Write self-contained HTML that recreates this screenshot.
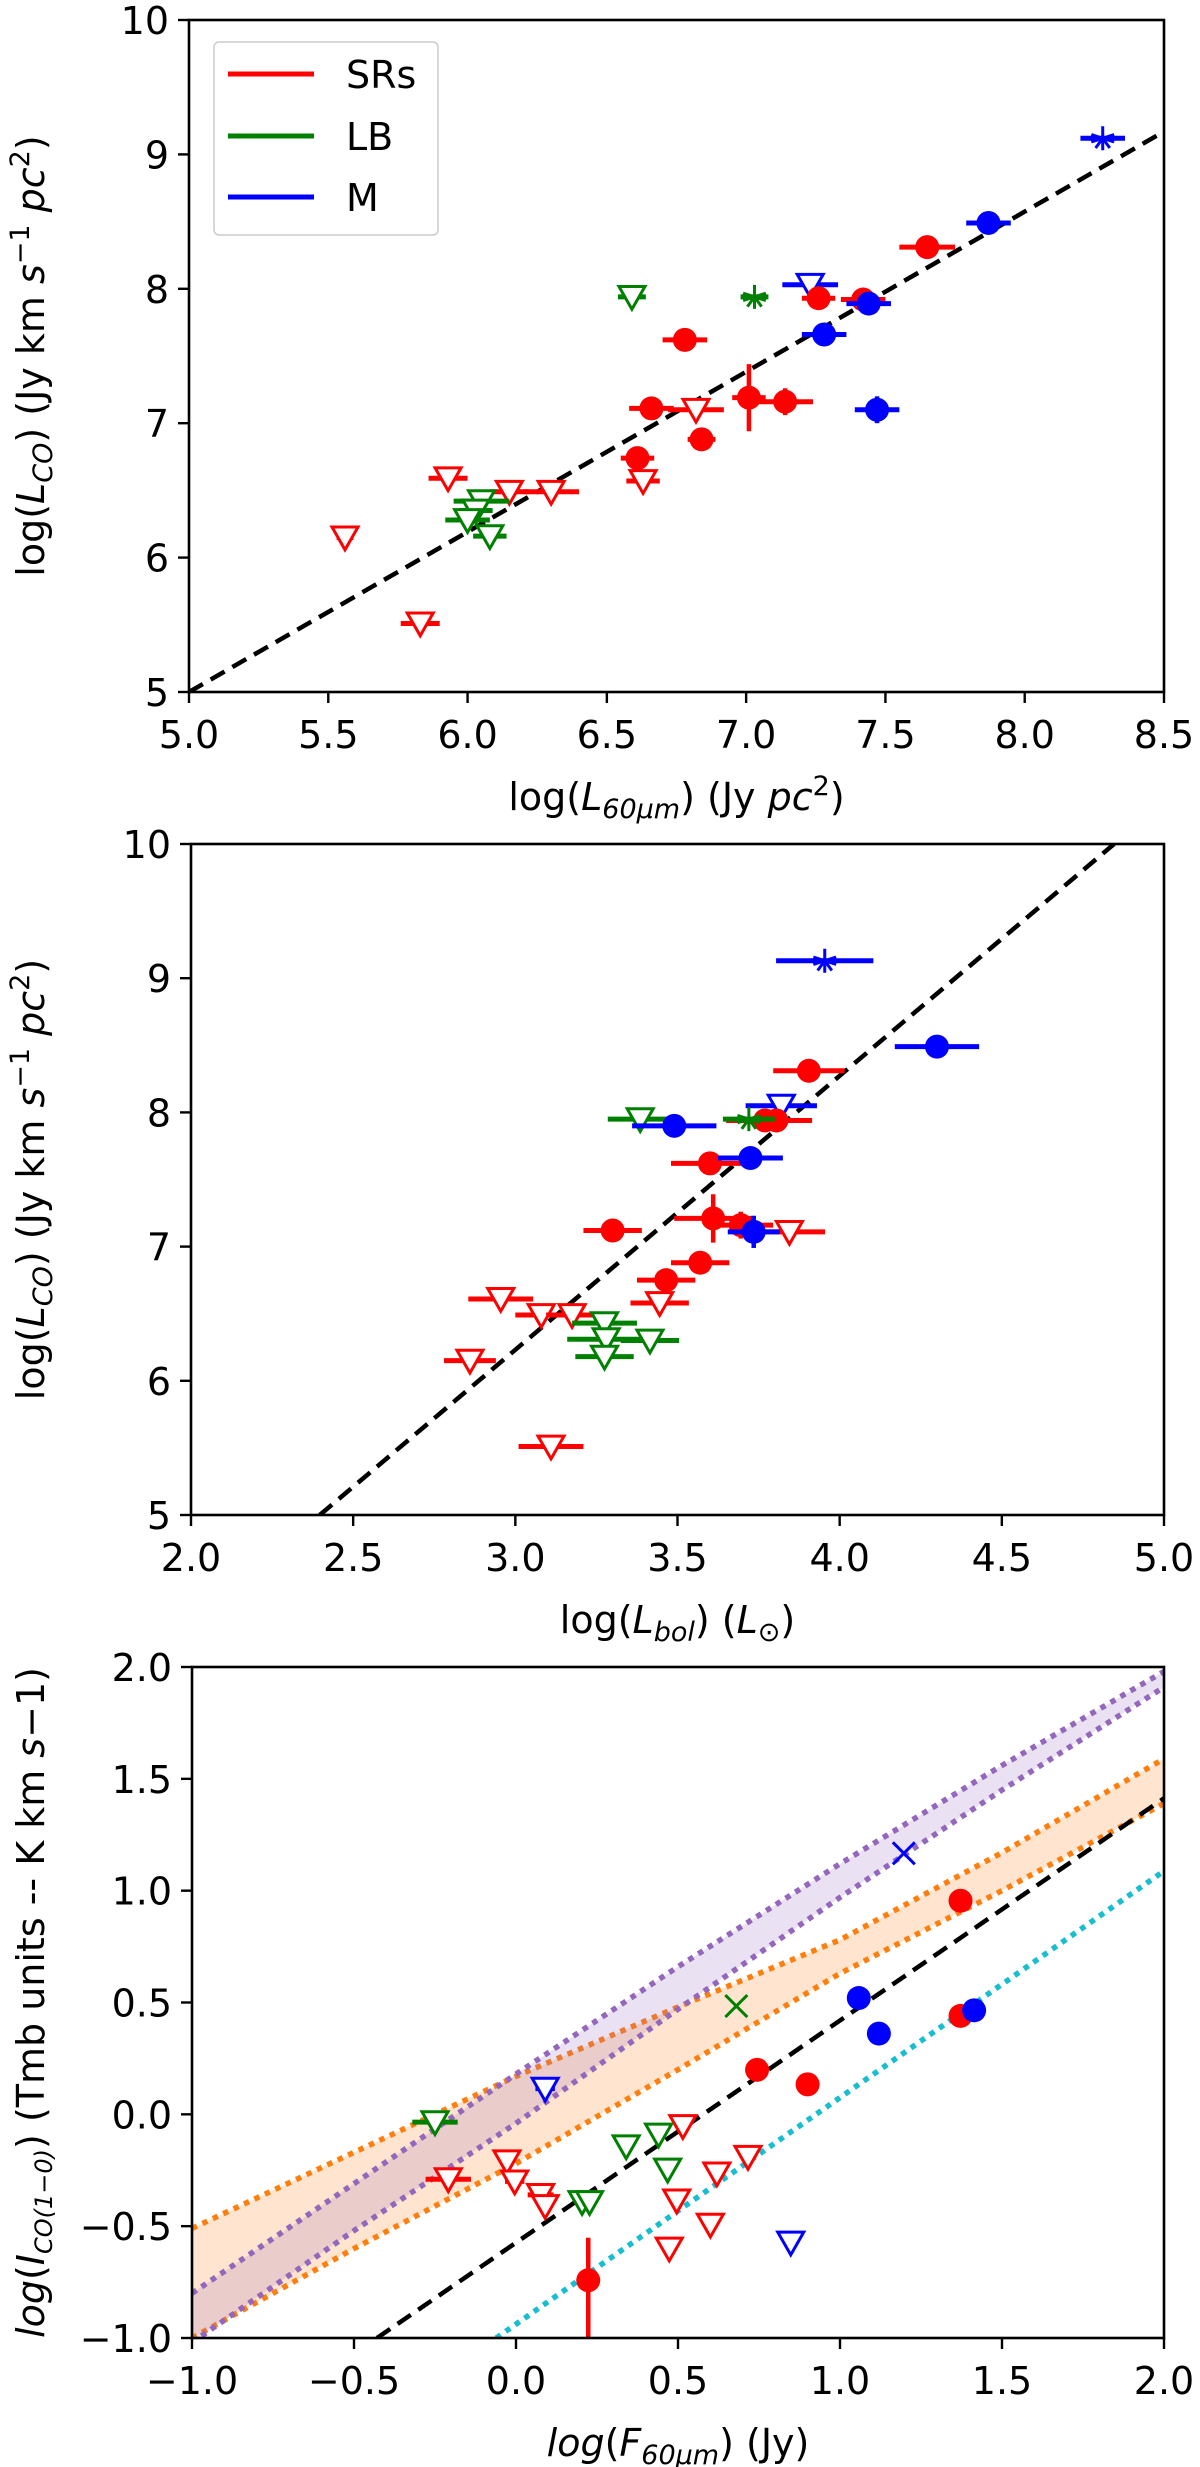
<!DOCTYPE html>
<html><head><meta charset="utf-8"><style>
html,body{margin:0;padding:0;background:#fff;}
svg{display:block;font-family:"DejaVu Sans","Liberation Sans",sans-serif;}
</style></head><body>
<svg id="fig" width="1200" height="2467" viewBox="0 0 1200 2467"></svg>
<script>
// ---------- Panel 1 data: log(L60) vs log(LCO) ----------
const p1_SR_filled = [[7.65,8.31,.1,0],[7.26,7.93,.06,0],[7.42,7.92,.08,0],[6.78,7.62,.08,0],[6.66,7.11,.08,0],[7.01,7.19,.06,.25],[7.14,7.16,.1,.1],[6.84,6.88,.05,.05],[6.61,6.74,.06,0]];
const p1_SR_upper = [[5.93,6.59,.07],[6.15,6.49,.07],[6.30,6.49,.1],[6.82,7.10,.1],[6.63,6.57,.06],[5.56,6.15,.03],[5.83,5.51,.07]];
const p1_LB_upper = [[6.59,7.94,.05],[6.05,6.42,.1],[6.03,6.35,.06],[6.00,6.28,.08],[6.08,6.16,.06]];
const p1_LB_star = [[7.03,7.94,.05]];
const p1_M_filled = [[7.87,8.49,.08,0],[7.44,7.89,.08,0],[7.28,7.66,.08,.05],[7.47,7.10,.08,.1]];
const p1_M_upper = [[7.23,8.03,.1]];
const p1_M_star = [[8.28,9.12,.08]];
const p1_fit_x = [5.0,8.5];
const p1_fit_y = [5.0,9.17];
const p1_xticks = [5.0,5.5,6.0,6.5,7.0,7.5,8.0,8.5];
const p1_yticks = [5,6,7,8,9,10];

// ---------- Panel 2 data: log(Lbol) vs log(LCO) ----------
const p2_SR_filled = [[3.905,8.31,.11,0],[3.77,7.94,.12,0],[3.805,7.94,.11,0],[3.60,7.62,.12,0],[3.61,7.21,.12,.18],[3.695,7.16,.1,.1],[3.30,7.12,.09,0],[3.57,6.88,.09,.05],[3.465,6.75,.09,0]];
const p2_SR_upper = [[2.955,6.61,.1],[3.08,6.49,.08],[3.175,6.49,.08],[3.445,6.58,.09],[3.845,7.11,.11],[2.86,6.15,.08],[3.11,5.51,.1]];
const p2_LB_upper = [[3.385,7.95,.1],[3.275,6.43,.1],[3.28,6.31,.12],[3.415,6.30,.09],[3.275,6.18,.09]];
const p2_LB_star = [[3.72,7.95,.08]];
const p2_M_filled = [[4.30,8.49,.13,0],[3.49,7.90,.13,0],[3.725,7.66,.1,.07],[3.735,7.11,.08,.12]];
const p2_M_upper = [[3.82,8.05,.11]];
const p2_M_star = [[3.954,9.13,.15]];
const p2_fit_x = [2.397,4.846];
const p2_fit_y = [5.0,10.0];
const p2_xticks = [2.0,2.5,3.0,3.5,4.0,4.5,5.0];
const p2_yticks = [5,6,7,8,9,10];

// ---------- Panel 3 data: log(F60) vs log(ICO) ----------
const p3_SR_filled = [[1.372,0.955,0,0],[1.372,0.44,0,0],[0.744,0.199,0,0],[0.90,0.134,0,0],[0.223,-0.742,0,0.19,0.3]];
const p3_SR_upper = [[-0.209,-0.29,.07],[-0.028,-0.21,.02],[-0.004,-0.30,.03],[0.076,-0.36,.04],[0.09,-0.41,.02],[0.515,-0.052,0],[0.716,-0.19,0],[0.62,-0.264,0],[0.496,-0.385,0],[0.60,-0.493,0],[0.473,-0.60,0]];
const p3_LB_upper = [[-0.25,-0.035,.07],[0.34,-0.143,0],[0.44,-0.09,0],[0.468,-0.247,0],[0.204,-0.392,0],[0.227,-0.392,0]];
const p3_LB_cross = [[0.68,0.484]];
const p3_M_filled = [[1.058,0.52,0,0],[1.12,0.361,0,.05],[1.414,0.465,0,0]];
const p3_M_upper = [[0.09,0.115,.03],[0.848,-0.573,0]];
const p3_M_cross = [[1.197,1.167]];
const p3_band_x = [-1,-0.5,0,0.5,1,1.5,2];
const p3_purple_hi = [-0.80,-0.31,0.18,0.66,1.12,1.56,1.98];
const p3_purple_lo = [-1.02,-0.52,-0.04,0.47,0.97,1.45,1.91];
const p3_orange_hi = [-0.51,-0.17,0.17,0.48,0.78,1.17,1.59];
const p3_orange_lo = [-1.0,-0.6,-0.22,0.2,0.63,1.0,1.39];
const p3_fit_x = [-0.429,2.0];
const p3_fit_y = [-1.0,1.413];
const p3_cyan_x = [-0.061,2.0];
const p3_cyan_y = [-1.0,1.088];
const p3_xticks = [-1.0,-0.5,0.0,0.5,1.0,1.5,2.0];
const p3_yticks = [-1.0,-0.5,0.0,0.5,1.0,1.5,2.0];

const NS = "http://www.w3.org/2000/svg";
const fig = document.getElementById('fig');
const RED="#ff0000", GREEN="#008000", BLUE="#0000ff";
const FS = 38, SUB = 27;

function mk(tag, attrs, parent){
  const e = document.createElementNS(NS, tag);
  for (const k in attrs) e.setAttribute(k, attrs[k]);
  (parent||fig).appendChild(e);
  return e;
}

function makePanel(name, box, xd, yd){
  const g = mk('g', {});
  
  
  const sx = v => box.l + (v - xd[0]) / (xd[1]-xd[0]) * (box.r - box.l);
  const sy = v => box.b - (v - yd[0]) / (yd[1]-yd[0]) * (box.b - box.t);
  const cid = name + '-clip';
  const cp = mk('clipPath', {id: cid}, g);
  mk('rect', {x: box.l, y: box.t, width: box.r-box.l, height: box.b-box.t}, cp);
  const plot = mk('g', {'clip-path': 'url(#'+cid+')'}, g);
  
  
  return {g, plot, sx, sy, box};
}

function drawAxes(P, xticks, yticks, fmtX, fmtY, xlabelHTML, ylabelHTML){
  const {g, sx, sy, box} = P;
  const frame = mk('rect', {x: box.l, y: box.t, width: box.r-box.l, height: box.b-box.t, fill: 'none', stroke: '#000', 'stroke-width': 2.6}, g);
  
  
  xticks.forEach(v => {
    const x = sx(v);
    mk('line', {x1: x, x2: x, y1: box.b, y2: box.b+11, stroke: '#000', 'stroke-width': 2.4}, g);
    const t = mk('text', {x: x, y: box.b+56, 'text-anchor': 'middle', 'font-size': FS, fill: '#000'}, g);
    
    
    t.textContent = fmtX(v);
  });
  yticks.forEach(v => {
    const y = sy(v);
    mk('line', {x1: box.l-11, x2: box.l, y1: y, y2: y, stroke: '#000', 'stroke-width': 2.4}, g);
    const t = mk('text', {x: box.l-20, y: y+14, 'text-anchor': 'end', 'font-size': FS, fill: '#000'}, g);
    
    
    t.textContent = fmtY(v);
  });
  const xl = mk('text', {x: (box.l+box.r)/2, y: box.b+118, 'text-anchor': 'middle', 'font-size': FS, fill: '#000'}, g);
  
  
  xl.innerHTML = xlabelHTML;
  const cy = (box.t+box.b)/2;
  const yl = mk('text', {x: 44, y: cy, 'text-anchor': 'middle', 'font-size': FS, fill: '#000', transform: 'rotate(-90 44 '+cy+')'}, g);
  
  
  yl.innerHTML = ylabelHTML;
}

function line(P, xs, ys, color, dash, width, nm){
  const l = mk('line', {x1: P.sx(xs[0]), y1: P.sy(ys[0]), x2: P.sx(xs[1]), y2: P.sy(ys[1]), stroke: color, 'stroke-width': width, 'stroke-dasharray': dash, 'stroke-linecap': 'butt'}, P.plot);
  
  
}

function errbars(P, d, color){
  const x = P.sx(d[0]), y = P.sy(d[1]);
  if (d[2]) mk('line', {x1: P.sx(d[0]-d[2]), x2: P.sx(d[0]+d[2]), y1: y, y2: y, stroke: color, 'stroke-width': 5}, P.plot);
  if (d[3]) {
    const lo = d.length > 4 ? d[4] : d[3];
    mk('line', {x1: x, x2: x, y1: P.sy(d[1]-lo), y2: P.sy(d[1]+d[3]), stroke: color, 'stroke-width': 4.5}, P.plot);
  }
}

function series(P, data, color, kind, nm){
  data.forEach(d => {
    errbars(P, d, color);
    const x = P.sx(d[0]), y = P.sy(d[1]);
    let m;
    if (kind === 'circle') {
      m = mk('circle', {cx: x, cy: y, r: 12, fill: color}, P.plot);
    } else if (kind === 'tri') {
      const s = 13;
      m = mk('polygon', {points: (x-s)+','+(y-s*0.8)+' '+(x+s)+','+(y-s*0.8)+' '+x+','+(y+s*0.95), fill: '#fff', stroke: color, 'stroke-width': 3, 'stroke-linejoin': 'miter'}, P.plot);
    } else if (kind === 'star') {
      const s = 12;
      m = mk('path', {d: 'M'+x+','+(y-s)+'L'+x+','+(y+s)+'M'+(x-s*0.95)+','+(y-s*0.31)+'L'+(x+s*0.95)+','+(y+s*0.31)+'M'+(x-s*0.95)+','+(y+s*0.31)+'L'+(x+s*0.95)+','+(y-s*0.31)+'M'+x+','+y+'L'+(x-s*0.59)+','+(y+s*0.81)+'M'+x+','+y+'L'+(x+s*0.59)+','+(y+s*0.81), stroke: color, 'stroke-width': 3, fill: 'none'}, P.plot);
    } else {
      const s = 11;
      m = mk('path', {d: 'M'+(x-s)+','+(y-s)+'L'+(x+s)+','+(y+s)+'M'+(x-s)+','+(y+s)+'L'+(x+s)+','+(y-s), stroke: color, 'stroke-width': 3, fill: 'none'}, P.plot);
    }
    
    
  });
}

function band(P, xs, hi, lo, fill, stroke, nm){
  let pts = xs.map((v,i) => P.sx(v)+','+P.sy(hi[i]));
  pts = pts.concat(xs.slice().reverse().map((v,i) => P.sx(v)+','+P.sy(lo[xs.length-1-i])));
  const b = mk('polygon', {points: pts.join(' '), fill: fill, stroke: 'none'}, P.plot);
  
  
  [hi, lo].forEach((arr, j) => {
    const pl = mk('polyline', {points: xs.map((v,i) => P.sx(v)+','+P.sy(arr[i])).join(' '), fill: 'none', stroke: stroke, 'stroke-width': 5.5, 'stroke-dasharray': '5.5,6'}, P.plot);
    
    
  });
}

const f1 = v => v.toFixed(1);
const f0 = v => String(v);
const fm = v => v.toFixed(1).replace('-', '\u2212');
const ylabLCO = 'log(<tspan font-style="italic">L</tspan><tspan font-style="italic" font-size="'+SUB+'" dy="8">CO</tspan><tspan dy="-8">) (Jy km </tspan><tspan font-style="italic">s</tspan><tspan font-size="'+SUB+'" dy="-15">\u22121</tspan><tspan dy="15"> </tspan><tspan font-style="italic">pc</tspan><tspan font-size="'+SUB+'" dy="-15">2</tspan><tspan dy="15">)</tspan>';

function drawLCOPanel(name, box, xd, SRc, SRt, LBt, LBs, Mc, Mt, Ms, fx, fy, xt, yt, xlab){
  const P = makePanel(name, box, xd, [5,10]);
  line(P, fx, fy, '#000', '16,9', 4.5, 'fit-line');
  series(P, SRt, RED, 'tri', 'sr-upper-limit');
  series(P, LBt, GREEN, 'tri', 'lb-upper-limit');
  series(P, Mt, BLUE, 'tri', 'm-upper-limit');
  series(P, SRc, RED, 'circle', 'sr-detection');
  series(P, Mc, BLUE, 'circle', 'm-detection');
  series(P, LBs, GREEN, 'star', 'lb-star');
  series(P, Ms, BLUE, 'star', 'm-star');
  drawAxes(P, xt, yt, f1, f0, xlab, ylabLCO);
  return P;
}

// Panel 1
const P1 = drawLCOPanel('panel-l60', {l:189, r:1164, t:20, b:692}, [5,8.5],
  p1_SR_filled, p1_SR_upper, p1_LB_upper, p1_LB_star, p1_M_filled, p1_M_upper, p1_M_star,
  p1_fit_x, p1_fit_y, p1_xticks, p1_yticks,
  'log(<tspan font-style="italic">L</tspan><tspan font-style="italic" font-size="'+SUB+'" dy="8">60μm</tspan><tspan dy="-8">) (Jy </tspan><tspan font-style="italic">pc</tspan><tspan font-size="'+SUB+'" dy="-15">2</tspan><tspan dy="15">)</tspan>');

// legend
(function(){
  const lg = mk('g', {}, P1.g);
  
  
  mk('rect', {x: 214, y: 42, width: 224, height: 193, rx: 5, fill: '#fff', stroke: '#ccc', 'stroke-width': 1.5}, lg);
  [['SRs', RED, 74], ['LB', GREEN, 136], ['M', BLUE, 197]].forEach(e => {
    const it = mk('g', {}, lg);
    
    
    mk('line', {x1: 228, x2: 314, y1: e[2], y2: e[2], stroke: e[1], 'stroke-width': 5}, it);
    const t = mk('text', {x: 346, y: e[2]+14, 'font-size': FS, fill: '#000'}, it);
    t.textContent = e[0];
  });
})();

// Panel 2
drawLCOPanel('panel-lbol', {l:191, r:1164, t:844, b:1515}, [2,5],
  p2_SR_filled, p2_SR_upper, p2_LB_upper, p2_LB_star, p2_M_filled, p2_M_upper, p2_M_star,
  p2_fit_x, p2_fit_y, p2_xticks, p2_yticks,
  'log(<tspan font-style="italic">L</tspan><tspan font-style="italic" font-size="'+SUB+'" dy="8">bol</tspan><tspan dy="-8">) (</tspan><tspan font-style="italic">L</tspan><tspan font-size="'+SUB+'" dy="8">⊙</tspan><tspan dy="-8">)</tspan>');

// Panel 3
(function(){
  const P = makePanel('panel-f60', {l:192, r:1164, t:1667, b:2338}, [-1,2], [-1,2]);
  band(P, p3_band_x, p3_orange_hi, p3_orange_lo, 'rgba(255,127,14,0.2)', '#ff7f0e', 'orange-fit');
  band(P, p3_band_x, p3_purple_hi, p3_purple_lo, 'rgba(148,103,189,0.2)', '#9467bd', 'purple-fit');
  line(P, p3_fit_x, p3_fit_y, '#000', '16,9', 4.5, 'fit-line');
  line(P, p3_cyan_x, p3_cyan_y, '#17becf', '5.5,6', 5.5, 'cyan-fit-line');
  series(P, p3_SR_upper, RED, 'tri', 'sr-upper-limit');
  series(P, p3_LB_upper, GREEN, 'tri', 'lb-upper-limit');
  series(P, p3_M_upper, BLUE, 'tri', 'm-upper-limit');
  series(P, p3_SR_filled, RED, 'circle', 'sr-detection');
  series(P, p3_M_filled, BLUE, 'circle', 'm-detection');
  series(P, p3_LB_cross, GREEN, 'cross', 'lb-cross');
  series(P, p3_M_cross, BLUE, 'cross', 'm-cross');
  drawAxes(P, p3_xticks, p3_yticks, fm, fm,
    '<tspan font-style="italic">log</tspan>(<tspan font-style="italic">F</tspan><tspan font-style="italic" font-size="'+SUB+'" dy="8">60μm</tspan><tspan dy="-8">) (Jy)</tspan>',
    '<tspan font-style="italic">log</tspan>(<tspan font-style="italic">I</tspan><tspan font-style="italic" font-size="24" dy="8">CO(1\u22120)</tspan><tspan dy="-8">) (Tmb units -- K km </tspan><tspan font-style="italic">s</tspan>\u22121)');
})();
</script>
</body></html>
